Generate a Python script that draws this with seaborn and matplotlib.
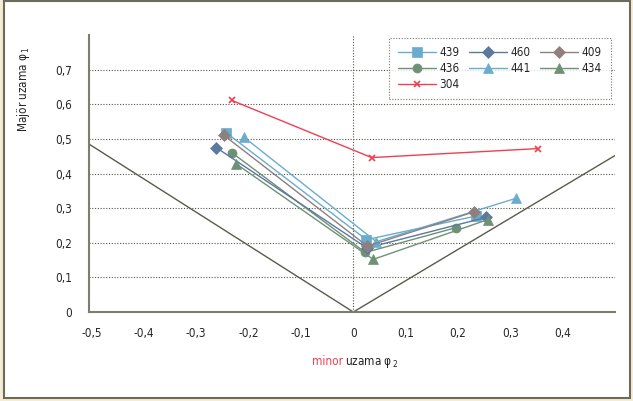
import matplotlib
matplotlib.use("Agg")
import matplotlib.pyplot as plt
import matplotlib.patches as patches
from matplotlib import font_manager
import seaborn as sns
import pandas as pd

# three strain points per specimen (minor phi2, major phi1)
names = ["439", "436", "304", "460", "441", "409", "434"]
minor = {
    "439": [-0.243, 0.025, 0.234],
    "436": [-0.231, 0.023, 0.197],
    "304": [-0.232, 0.035, 0.353],
    "460": [-0.262, 0.026, 0.253],
    "441": [-0.209, 0.044, 0.310],
    "409": [-0.247, 0.027, 0.230],
    "434": [-0.224, 0.038, 0.257],
}
major = {
    "439": [0.518, 0.209, 0.277],
    "436": [0.459, 0.172, 0.244],
    "304": [0.611, 0.446, 0.472],
    "460": [0.475, 0.185, 0.273],
    "441": [0.505, 0.203, 0.328],
    "409": [0.510, 0.190, 0.289],
    "434": [0.428, 0.152, 0.267],
}
guide_x = [-0.505, 0.0, 0.5]
guide_y = [0.485, 0.0, 0.452]
xticks = [-0.5, -0.4, -0.3, -0.2, -0.1, 0, 0.1, 0.2, 0.3, 0.4]
yticks = [0, 0.1, 0.2, 0.3, 0.4, 0.5, 0.6, 0.7]

colors = {"439": "#6aacce", "436": "#6e9176", "304": "#ef3f52", "460": "#5b789e",
          "441": "#6aacce", "409": "#8e807f", "434": "#6e9176"}
markers = {"439": "s", "436": "o", "304": "x", "460": "D", "441": "^", "409": "D", "434": "^"}
msize = {"439": 7, "436": 6.5, "304": 5, "460": 6.5, "441": 7, "409": 6.5, "434": 7}

sns.set_style("white")
fams = {f.name for f in font_manager.fontManager.ttflist}
if "Liberation Sans Narrow" in fams:
    plt.rcParams["font.family"] = ["Liberation Sans Narrow", "DejaVu Sans"]
else:
    plt.rcParams["font.family"] = ["DejaVu Sans"]
    plt.rcParams["font.stretch"] = "condensed"

fig = plt.figure(figsize=(6.33, 4.01), dpi=100)
fig.patch.set_facecolor("#f4ecd4")
fig.patches.append(patches.Rectangle((0.006, 0.008), 0.989, 0.99, transform=fig.transFigure,
                                     facecolor="white", edgecolor="#6b6b5c", lw=1.5, zorder=-5))
ax = fig.add_axes([0.1406, 0.2219, 0.8310, 0.6908])
ax.set_facecolor("none")

for y in yticks[1:]:
    ax.axhline(y, color="#555548", lw=0.8, ls=(0, (1, 1.5)), zorder=1)
ax.axvline(0, color="#555548", lw=0.8, ls=(0, (1, 1.5)), zorder=1)

sns.lineplot(x=guide_x, y=guide_y, color="#5a5a4c", lw=1.0, sort=False, ax=ax, zorder=2)

for n in names:
    df = pd.DataFrame({"minor": minor[n], "major": major[n]})
    sns.lineplot(data=df, x="minor", y="major", sort=False, color=colors[n], lw=1.0,
                 marker=markers[n], markersize=msize[n], markeredgecolor=colors[n],
                 markeredgewidth=1.2 if n == "304" else 0.5, label=n, ax=ax, zorder=3)

ax.set_xlim(-0.505, 0.5)
ax.set_ylim(0, 0.8)
ax.set_xticks(xticks)
ax.set_yticks(yticks)
ax.set_xticklabels(["0" if v == 0 else f"{v:.1f}".replace(".", ",") for v in xticks], fontsize=8.5)
ax.set_yticklabels(["0" if v == 0 else f"{v:.1f}".replace(".", ",") for v in yticks], fontsize=8.5)
ax.tick_params(axis="both", direction="out", length=7, width=1.0, color="#7d7d70", pad=4)
ax.tick_params(axis="y", length=8)
for s in ["top", "right"]:
    ax.spines[s].set_visible(False)
for s in ["left", "bottom"]:
    ax.spines[s].set_color("#7d7d70")
    ax.spines[s].set_linewidth(1.5)

ax.set_xlabel("")
ax.set_ylabel("Majör uzama φ$_{\\,1}$", fontsize=8.5)
ax.yaxis.set_label_coords(-0.108, 0.805)

ax.text(0.483, -0.19, "minor", color="#ef3f52", ha="right", va="baseline",
        fontsize=8.5, transform=ax.transAxes)
ax.text(0.487, -0.19, "uzama φ$_{\\,2}$", color="#222222", ha="left", va="baseline",
        fontsize=8.5, transform=ax.transAxes)

h, l = ax.get_legend_handles_labels()
leg = ax.legend(h, l, ncol=3, loc="upper right", bbox_to_anchor=(1.003, 1.012),
                fontsize=8.5, frameon=True, fancybox=False, handlelength=3.2,
                handletextpad=0.3, columnspacing=0.8, labelspacing=0.22, borderpad=0.75)
leg.get_frame().set_edgecolor("#555548")
leg.get_frame().set_linestyle((0, (1, 1.5)))
leg.get_frame().set_linewidth(0.8)

fig.savefig("out.png", dpi=100, facecolor=fig.get_facecolor())
